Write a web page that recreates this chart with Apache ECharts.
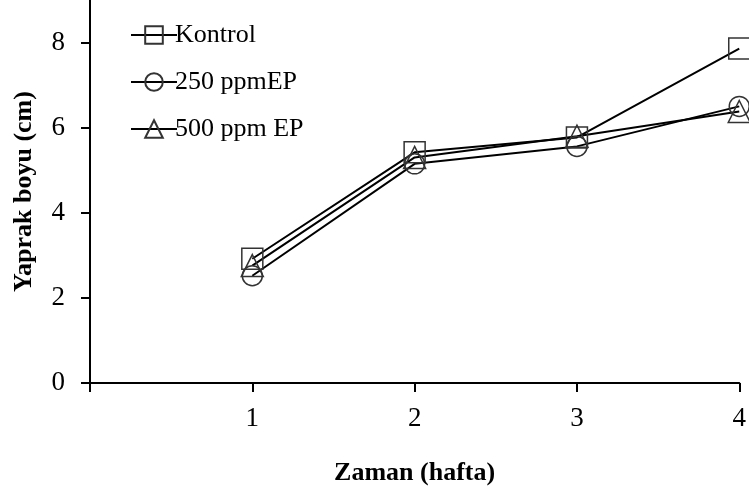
<!DOCTYPE html>
<html><head><meta charset="utf-8">
<script src="https://cdn.jsdelivr.net/npm/echarts@6/dist/echarts.min.js"></script>
<style>html,body{margin:0;padding:0;background:#fff}#c{width:749px;height:492px}</style>
</head><body><div id="c"></div>
<script>
const weeks = [1, 2, 3, 4];
const kontrol = [2.92, 5.42, 5.77, 7.86];
const ep250 = [2.52, 5.15, 5.56, 6.5];
const ep500 = [2.76, 5.3, 5.8, 6.38];
const yTicks = [0, 2, 4, 6, 8];
const seriesNames = ['Kontrol', '250 ppmEP', '500 ppm EP'];
const symbols = ['rect', 'circle', 'triangle'];
const sizes = [21, 20, 22];
const allData = [kontrol, ep250, ep500];
const font = 'Liberation Serif';

const chart = echarts.init(document.getElementById('c'));
chart.setOption({
  backgroundColor: '#fff',
  animation: false,
  textStyle: { fontFamily: font, color: '#000' },
  grid: { left: 90, right: 9, top: 0, bottom: 109 },
  legend: {
    orient: 'vertical', left: 125, top: 17, itemWidth: 46, itemHeight: 22, itemGap: 21,
    textStyle: { fontFamily: font, fontSize: 26, color: '#000', padding: [0,0,0,-7] },
    data: seriesNames
  },
  xAxis: {
    type: 'value', min: 0, max: 4, interval: 1,
    axisLine: { lineStyle: { color: '#000', width: 2 } },
    axisTick: { show: true, length: 9, lineStyle: { color: '#000', width: 2 } },
    axisLabel: { customValues: weeks, fontFamily: font, fontSize: 27, color: '#000', margin: 22 },
    splitLine: { show: false },
    name: 'Zaman (hafta)', nameLocation: 'middle', nameGap: 77,
    nameTextStyle: { fontFamily: font, fontSize: 26, fontWeight: 'bold', color: '#000' }
  },
  yAxis: {
    type: 'value', min: 0, max: 9, interval: 2,
    axisLine: { show: true, lineStyle: { color: '#000', width: 2 } },
    axisTick: { show: true, length: 9, customValues: yTicks, lineStyle: { color: '#000', width: 2 } },
    axisLabel: { customValues: yTicks, fontFamily: font, fontSize: 27, color: '#000', margin: 25 },
    splitLine: { show: false },
    name: 'Yaprak boyu (cm)', nameLocation: 'middle', nameGap: 53, nameRotate: 90,
    nameTextStyle: { fontFamily: font, fontSize: 26, fontWeight: 'bold', color: '#000' }
  },
  series: seriesNames.map((n, i) => ({
    name: n, type: 'line',
    data: weeks.map((w, j) => [w, allData[i][j]]),
    symbol: symbols[i], symbolSize: sizes[i], showAllSymbol: true,
    lineStyle: { color: '#000', width: 2 },
    itemStyle: { color: 'rgba(0,0,0,0)', borderColor: '#333', borderWidth: 1.5 },
    clip: false
  }))
});
</script></body></html>
